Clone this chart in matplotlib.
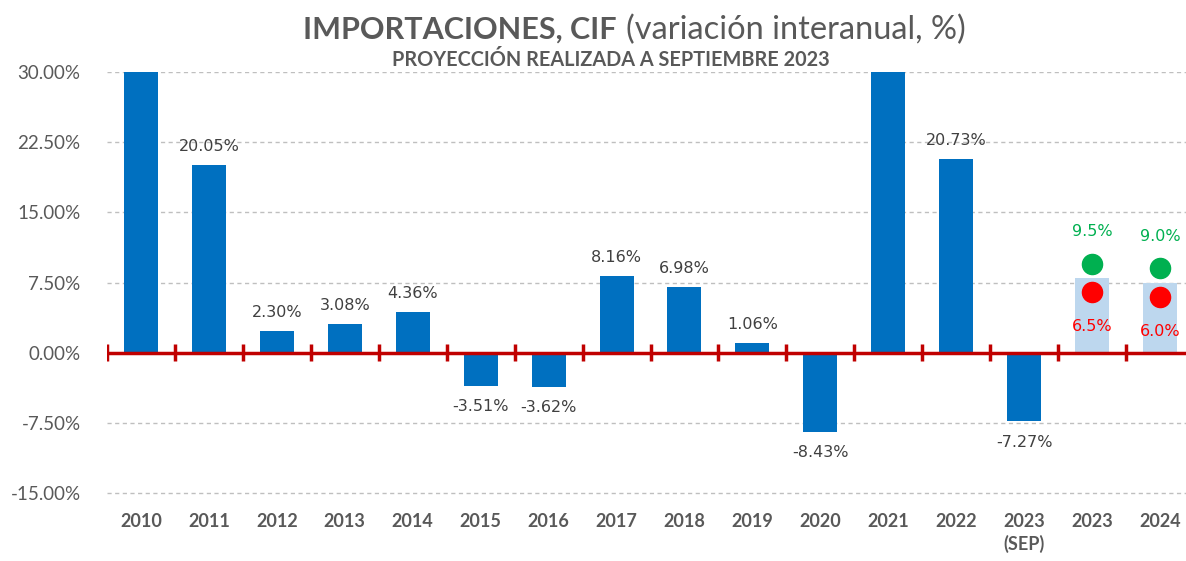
import numpy as np
import matplotlib.pyplot as plt

# ============================================================
CATEGORIES = ["2010", "2011", "2012", "2013", "2014", "2015", "2016", "2017",
              "2018", "2019", "2020", "2021", "2022", "2023\n(SEP)", "2023", "2024"]
# valores observados (2010 y 2021 superan el eje de 30%)
ACTUAL = [35.0, 20.05, 2.30, 3.08, 4.36, -3.51, -3.62, 8.16,
          6.98, 1.06, -8.43, 40.0, 20.73, -7.27]
SHOW_LABEL = [False] + [True] * 10 + [False, True, True]
# proyecciones 2023 y 2024
PROJ_CENTER = [8.0, 7.5]
PROJ_HIGH = [9.5, 9.0]
PROJ_LOW = [6.5, 6.0]
Y_TICKS = [-15.0, -7.5, 0.0, 7.5, 15.0, 22.5, 30.0]

GRAY = "#595959"
BLUE = "#0070C0"
LIGHT = "#BDD7EE"
RED_AXIS = "#C00000"

plt.rcParams["font.family"] = ["Lato", "DejaVu Sans"]

fig = plt.figure(figsize=(11.86, 5.61), dpi=100)
ax = fig.add_axes([107 / 1186, 63.3 / 561, 1087 / 1186, 425.7 / 561])

x = np.arange(len(CATEGORIES))
n_act = len(ACTUAL)
x_proj = x[n_act:]

ax.bar(x[:n_act], ACTUAL, width=0.5, color=BLUE, zorder=3)
ax.bar(x_proj, PROJ_CENTER, width=0.5, color=LIGHT, zorder=3)

# etiquetas de datos
for xi, v, show in zip(x[:n_act], ACTUAL, SHOW_LABEL):
    if not show:
        continue
    if v >= 0:
        ax.annotate(f"{v:.2f}%", (xi, v), xytext=(0, 8), textcoords="offset points",
                    ha="center", va="bottom", fontsize=11.5, color="#404040",
                    family="DejaVu Sans")
    else:
        ax.annotate(f"{v:.2f}%", (xi, v), xytext=(0, -10), textcoords="offset points",
                    ha="center", va="top", fontsize=11.5, color="#404040",
                    family="DejaVu Sans")

# rangos de proyección
ax.scatter(x_proj, PROJ_HIGH, s=210, color="#00B050", zorder=5)
ax.scatter(x_proj, PROJ_LOW, s=210, color="#FF0000", zorder=5)
for xi, hi, lo in zip(x_proj, PROJ_HIGH, PROJ_LOW):
    ax.annotate(f"{hi:.1f}%", (xi, hi), xytext=(0, 23), textcoords="offset points",
                ha="center", va="center", fontsize=11.5, color="#00B050",
                family="DejaVu Sans")
    ax.annotate(f"{lo:.1f}%", (xi, lo), xytext=(0, -25), textcoords="offset points",
                ha="center", va="center", fontsize=11.5, color="#FF0000",
                family="DejaVu Sans")

# eje rojo en cero con marcas entre categorías
ax.axhline(0, color=RED_AXIS, lw=2.5, zorder=4)
ax.vlines(np.arange(-0.5, len(CATEGORIES) - 0.4, 1.0), -0.9, 0.9,
          color=RED_AXIS, lw=2.5, zorder=4)

ax.set_xlim(-0.5, len(CATEGORIES) - 0.5)
ax.set_ylim(-15.5, 30)
ax.set_yticks(Y_TICKS)
ax.set_yticklabels([f"{t:.2f}%" for t in Y_TICKS])
ax.set_xticks(x)
ax.set_xticklabels(CATEGORIES, fontweight="bold", fontsize=13, color=GRAY,
                   linespacing=1.3)
ax.tick_params(axis="x", length=0, pad=11)
ax.tick_params(axis="y", length=0, pad=19, labelsize=13.5, labelcolor=GRAY)
ax.grid(axis="y", color="#BFBFBF", linestyle=(0, (3, 2.5)), lw=1, zorder=0)
for s in ax.spines.values():
    s.set_visible(False)

# títulos
fig.text(617 / 1186, 1 - 30 / 561, "IMPORTACIONES, CIF", ha="right", va="center",
         fontsize=22, fontweight="bold", color=GRAY)
fig.text(626 / 1186, 1 - 30 / 561, "(variación interanual, %)", ha="left", va="center",
         fontsize=23.5, color=GRAY)
fig.text(611 / 1186, 1 - 60 / 561, "PROYECCIÓN REALIZADA A SEPTIEMBRE 2023",
         ha="center", va="center", fontsize=14.3, fontweight="bold", color=GRAY)

fig.savefig("out.png", dpi=100)
